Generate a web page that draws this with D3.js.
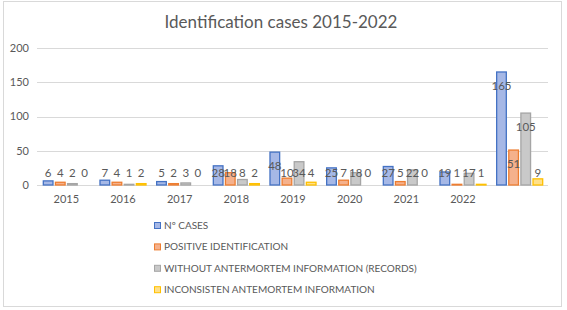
<!DOCTYPE html>
<html>
<head>
<meta charset="utf-8">
<script src="https://cdn.jsdelivr.net/npm/d3@7/dist/d3.min.js"></script>
<style>
  body { margin: 0; background: #fff; }
  text { font-family: Lato, "Open Sans", sans-serif; fill: #595959; }
</style>
</head>
<body>
<div id="chart"></div>
<script>
// values (last category is the total)
const categories = ["2015", "2016", "2017", "2018", "2019", "2020", "2021", "2022", ""];
const cases        = [6, 7, 5, 28, 48, 25, 27, 19, 165];
const positive     = [4, 4, 2, 18, 10, 7, 5, 1, 51];
const withoutInfo  = [2, 1, 3, 8, 34, 18, 22, 17, 105];
const inconsistent = [0, 2, 0, 2, 4, 0, 0, 1, 9];
const seriesNames = [
  "Nº CASES",
  "POSITIVE IDENTIFICATION",
  "WITHOUT ANTERMORTEM INFORMATION (RECORDS)",
  "INCONSISTEN ANTEMORTEM INFORMATION"
];
const yTicks = [0, 50, 100, 150, 200];

const seriesValues = [cases, positive, withoutInfo, inconsistent];
const strokes = ["#4472c4", "#ed7d31", "#a5a5a5", "#ffc000"];
const fills = ["#a6b8e6", "#f5b18c", "#c9c9c9", "#ffe089"];

const width = 567, height = 310;
const svg = d3.select("#chart").append("svg")
    .attr("width", width)
    .attr("height", height);

// chart frame
svg.append("rect")
    .attr("x", 3.5).attr("y", 1.5)
    .attr("width", 558).attr("height", 305)
    .attr("fill", "#fff")
    .attr("stroke", "#d9d9d9");

// title
svg.append("text")
    .attr("x", 281).attr("y", 28)
    .attr("text-anchor", "middle")
    .style("font-size", "17px")
    .text("Identification cases 2015-2022");

const x0 = d3.scaleBand()
    .domain(categories.map((c, i) => i))
    .range([38, 548])
    .paddingInner(0.17)
    .paddingOuter(0.085);

const x1 = d3.scaleBand()
    .domain(d3.range(seriesValues.length))
    .range([0, x0.bandwidth()])
    .paddingInner(0.12);

const y = d3.scaleLinear()
    .domain([0, 200])
    .range([185, 48]);

// gridlines + y labels
const grid = svg.append("g");
grid.selectAll("line")
    .data(yTicks)
    .join("line")
    .attr("x1", 37).attr("x2", 548)
    .attr("y1", d => Math.round(y(d)) + 0.5)
    .attr("y2", d => Math.round(y(d)) + 0.5)
    .attr("stroke", "#d9d9d9");
grid.selectAll("text")
    .data(yTicks)
    .join("text")
    .attr("x", 29)
    .attr("y", d => y(d))
    .attr("dy", "0.35em")
    .attr("text-anchor", "end")
    .style("font-size", "11px")
    .text(d => d);

// x labels
svg.append("g").selectAll("text")
    .data(categories)
    .join("text")
    .attr("x", (d, i) => x0(i) + x0.bandwidth() / 2)
    .attr("y", 199)
    .attr("dy", "0.35em")
    .attr("text-anchor", "middle")
    .style("font-size", "11px")
    .text(d => d);

// bars
const groups = svg.append("g").selectAll("g")
    .data(categories.map((c, i) => i))
    .join("g")
    .attr("transform", i => `translate(${x0(i)},0)`);

groups.selectAll("rect")
    .data(i => seriesValues.map((vals, s) => ({ s, v: vals[i] })))
    .join("rect")
    .attr("x", d => x1(d.s) + 0.5)
    .attr("y", d => y(d.v))
    .attr("width", x1.bandwidth() - 1)
    .attr("height", d => Math.max(0, y(0) - y(d.v)))
    .attr("fill", d => fills[d.s])
    .attr("stroke", d => strokes[d.s])
    .attr("stroke-width", 1.3)
    .attr("display", d => d.v === 0 ? "none" : null);

// data labels
groups.selectAll("text")
    .data(i => seriesValues.map((vals, s) => ({ s, v: vals[i] })))
    .join("text")
    .attr("x", d => x1(d.s) + x1.bandwidth() / 2)
    .attr("y", d => Math.min(y(d.v) + 14, y(0) - 12))
    .attr("dy", "0.35em")
    .attr("text-anchor", "middle")
    .style("font-size", "11.5px")
    .text(d => d.v);

// legend
const legend = svg.append("g").selectAll("g")
    .data(seriesNames)
    .join("g")
    .attr("transform", (d, i) => `translate(154,${225.5 + i * 21.4})`);
legend.append("rect")
    .attr("x", 0.5).attr("y", -3)
    .attr("width", 6).attr("height", 6)
    .attr("fill", (d, i) => fills[i])
    .attr("stroke", (d, i) => strokes[i]);
legend.append("text")
    .attr("x", 10)
    .attr("dy", "0.35em")
    .style("font-size", "10px")
    .text(d => d);
</script>
</body>
</html>
